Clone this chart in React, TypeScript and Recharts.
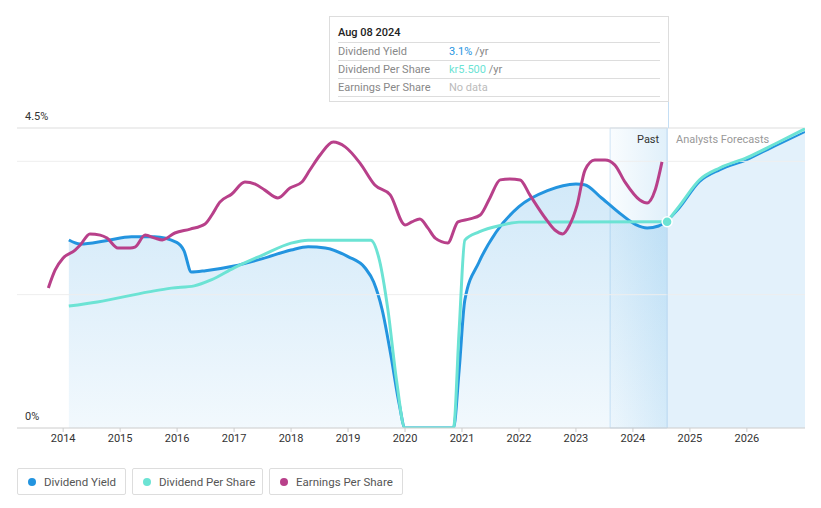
import React from 'react';
import {
  ComposedChart, Area, Line, XAxis, YAxis, ReferenceLine, ReferenceArea, ReferenceDot,
} from 'recharts';

// x = decimal year
const yieldYears = [2014.1, 2014.3, 2014.75, 2015.2, 2015.6, 2016.0, 2016.12, 2016.25, 2016.5, 2017, 2017.5, 2018, 2018.3, 2018.6, 2019, 2019.3, 2019.45, 2019.6, 2019.75, 2019.9, 2020.0, 2020.85, 2020.95, 2021.05, 2021.3, 2021.6, 2022, 2022.5, 2023, 2023.15, 2023.45, 2023.8, 2024.05, 2024.25, 2024.45, 2024.6];
const yieldValues = [2.82, 2.76, 2.81, 2.87, 2.87, 2.78, 2.66, 2.34, 2.36, 2.43, 2.54, 2.67, 2.72, 2.7, 2.57, 2.4, 2.19, 1.77, 1.1, 0.35, 0, 0, 0.87, 1.92, 2.49, 2.94, 3.32, 3.56, 3.66, 3.65, 3.45, 3.2, 3.05, 3.0, 3.03, 3.1];

const forecastYears = [2024.6, 2024.82, 2025.17, 2025.53, 2026, 2026.5, 2027.02];
const yieldForecast = [3.1, 3.3, 3.69, 3.87, 4.02, 4.23, 4.44];
const dpsForecast = [5.5, 5.93, 6.62, 6.94, 7.21, 7.58, 7.98];

const dpsYears = [2014.1, 2014.6, 2015.5, 2015.9, 2016.3, 2016.6, 2017, 2017.5, 2018, 2018.3, 2019.4, 2019.55, 2019.7, 2019.85, 2020, 2020.85, 2020.95, 2021.05, 2021.3, 2021.7, 2022, 2024.6];
const dpsValues = [3.25, 3.36, 3.63, 3.73, 3.79, 3.95, 4.27, 4.61, 4.93, 5.01, 5.01, 4.48, 3.15, 1.28, 0, 0, 2.61, 5.01, 5.23, 5.41, 5.49, 5.5];

const epsYears = [2013.74, 2013.86, 2014.0, 2014.21, 2014.3, 2014.47, 2014.65, 2014.77, 2014.96, 2015.18, 2015.26, 2015.44, 2015.61, 2015.74, 2015.96, 2016.23, 2016.49, 2016.61, 2016.75, 2016.96, 2017.19, 2017.37, 2017.54, 2017.77, 2017.98, 2018.19, 2018.33, 2018.51, 2018.74, 2018.95, 2019.21, 2019.47, 2019.74, 2020.0, 2020.12, 2020.26, 2020.4, 2020.53, 2020.75, 2020.93, 2021.14, 2021.32, 2021.49, 2021.67, 2021.84, 2022.02, 2022.19, 2022.46, 2022.63, 2022.77, 2022.89, 2023.02, 2023.16, 2023.33, 2023.51, 2023.68, 2023.86, 2024.12, 2024.25, 2024.39, 2024.51];
const epsValues = [4.67, 5.27, 5.67, 5.93, 6.1, 6.47, 6.43, 6.33, 6.0, 6.0, 6.03, 6.43, 6.33, 6.27, 6.5, 6.63, 6.8, 7.1, 7.53, 7.8, 8.2, 8.13, 7.93, 7.67, 8.0, 8.2, 8.6, 9.1, 9.53, 9.37, 8.83, 8.1, 7.77, 6.77, 6.87, 6.97, 6.67, 6.33, 6.17, 6.87, 6.97, 7.1, 7.67, 8.27, 8.3, 8.27, 7.77, 7.0, 6.6, 6.47, 6.77, 7.43, 8.6, 8.93, 8.93, 8.77, 8.2, 7.6, 7.5, 7.93, 8.87];

const yearTicks = [2014, 2015, 2016, 2017, 2018, 2019, 2020, 2021, 2022, 2023, 2024, 2025, 2026];
const pastStart = 2023.6;
const today = 2024.6;

const BLUE = '#2394df';
const TEAL = '#6ce3d4';
const MAGENTA = '#b8408a';

const zip = (xs: number[], ys: number[]) => xs.map((x, i) => ({ x, v: ys[i] }));

const axisLabel = (text: string) => (props: any) => {
  const { viewBox } = props;
  return (
    <text x={viewBox.x + 8} y={viewBox.y - 8} fontSize={11} fill="#333" fontFamily="Roboto">{text}</text>
  );
};

const legendItems = [
  { label: 'Dividend Yield', color: BLUE, w: 109 },
  { label: 'Dividend Per Share', color: TEAL, w: 131 },
  { label: 'Earnings Per Share', color: MAGENTA, w: 134 },
];

const rowStyle: React.CSSProperties = {
  display: 'flex', height: 17, alignItems: 'center', borderTop: '1px solid #ddd', fontSize: 11,
};

export default function App() {
  return (
    <div style={{ position: 'absolute', left: 0, top: 0, width: 821, height: 508, background: '#fff', fontFamily: 'Roboto, sans-serif' }}>
      <ComposedChart width={821} height={508} margin={{ top: 128, right: 16, bottom: 50, left: 17 }}>
        <defs>
          <linearGradient id="pastFill" x1="0" y1="0" x2="0" y2="1">
            <stop offset="0%" stopColor={BLUE} stopOpacity={0.34} />
            <stop offset="100%" stopColor={BLUE} stopOpacity={0.1} />
          </linearGradient>
          <linearGradient id="bandFill" x1="0" y1="0" x2="1" y2="0">
            <stop offset="0%" stopColor={BLUE} stopOpacity={0.05} />
            <stop offset="100%" stopColor={BLUE} stopOpacity={0.28} />
          </linearGradient>
        </defs>
        <XAxis
          type="number" dataKey="x" domain={[2013.19, 2027.02]} ticks={yearTicks} allowDataOverflow
          height={30} tick={{ fontSize: 11, fill: '#333', fontFamily: 'Roboto' }}
          tickLine={{ stroke: '#ccc' }} tickSize={4} axisLine={{ stroke: '#ccc' }}
        />
        <YAxis yAxisId="yield" domain={[0, 4.5]} hide allowDataOverflow />
        <YAxis yAxisId="dps" domain={[0, 8]} hide allowDataOverflow />
        <YAxis yAxisId="eps" domain={[0, 10]} hide allowDataOverflow />

        <ReferenceLine yAxisId="yield" y={4.5} stroke="#ddd" label={axisLabel('4.5%')} />
        <ReferenceLine yAxisId="yield" y={4} stroke="#eee" />
        <ReferenceLine yAxisId="yield" y={2} stroke="#eee" />
        <ReferenceLine yAxisId="yield" y={0} stroke="none" label={axisLabel('0%')} />

        <ReferenceArea yAxisId="yield" x1={pastStart} x2={today} y1={0} y2={4.5} fill="url(#bandFill)" stroke="#cfe4f5" strokeWidth={1} />
        <ReferenceLine yAxisId="yield" x={today} stroke="#c4def4" />

        <Area yAxisId="yield" data={zip(forecastYears, yieldForecast)} dataKey="v" type="monotone" stroke={BLUE} strokeWidth={2} fill={BLUE} fillOpacity={0.13} isAnimationActive={false} />
        <Area yAxisId="yield" data={zip(yieldYears, yieldValues)} dataKey="v" type="monotone" stroke={BLUE} strokeWidth={3} fill="url(#pastFill)" isAnimationActive={false} />
        <Line yAxisId="dps" data={zip(dpsYears, dpsValues)} dataKey="v" type="monotone" stroke={TEAL} strokeWidth={3} dot={false} isAnimationActive={false} />
        <Line yAxisId="dps" data={zip(forecastYears, dpsForecast)} dataKey="v" type="monotone" stroke={TEAL} strokeWidth={3} dot={false} isAnimationActive={false} />
        <Line yAxisId="eps" data={zip(epsYears, epsValues)} dataKey="v" type="monotone" stroke={MAGENTA} strokeWidth={3} dot={false} isAnimationActive={false} />
        <ReferenceDot yAxisId="dps" x={today} y={5.5} r={5} fill={TEAL} stroke="#fff" strokeWidth={1.5} />
      </ComposedChart>

      <div style={{ position: 'absolute', left: 637, top: 133, fontSize: 11, color: '#333' }}>Past</div>
      <div style={{ position: 'absolute', left: 676, top: 133, fontSize: 11, color: '#999' }}>Analysts Forecasts</div>

      <div style={{ position: 'absolute', left: 668, top: 102, width: 1, height: 26, background: '#c4def4' }} />
      <div style={{ position: 'absolute', left: 329, top: 16, width: 340, height: 86, border: '1px solid #ddd', background: '#fff', padding: '0 8px', boxSizing: 'border-box' }}>
        <div style={{ height: 25, lineHeight: '31px', fontSize: 11, color: '#222', fontWeight: 500 }}>Aug 08 2024</div>
        <div style={rowStyle}>
          <span style={{ width: 111, color: '#888' }}>Dividend Yield</span>
          <span style={{ color: BLUE }}>3.1%</span><span style={{ color: '#888' }}>&nbsp;/yr</span>
        </div>
        <div style={rowStyle}>
          <span style={{ width: 111, color: '#888' }}>Dividend Per Share</span>
          <span style={{ color: TEAL }}>kr5.500</span><span style={{ color: '#888' }}>&nbsp;/yr</span>
        </div>
        <div style={{ ...rowStyle, borderBottom: '1px solid #ddd' }}>
          <span style={{ width: 111, color: '#888' }}>Earnings Per Share</span>
          <span style={{ color: '#bbb' }}>No data</span>
        </div>
      </div>

      <div style={{ position: 'absolute', left: 17, top: 468, display: 'flex', gap: 6 }}>
        {legendItems.map(item => (
          <div key={item.label} style={{ width: item.w, height: 27, boxSizing: 'border-box', border: '1px solid #ddd', borderRadius: 2, display: 'flex', alignItems: 'center', paddingLeft: 10, fontSize: 11.5, color: '#555' }}>
            <span style={{ width: 8, height: 8, borderRadius: 4, background: item.color, marginRight: 8 }} />
            {item.label}
          </div>
        ))}
      </div>
    </div>
  );
}
